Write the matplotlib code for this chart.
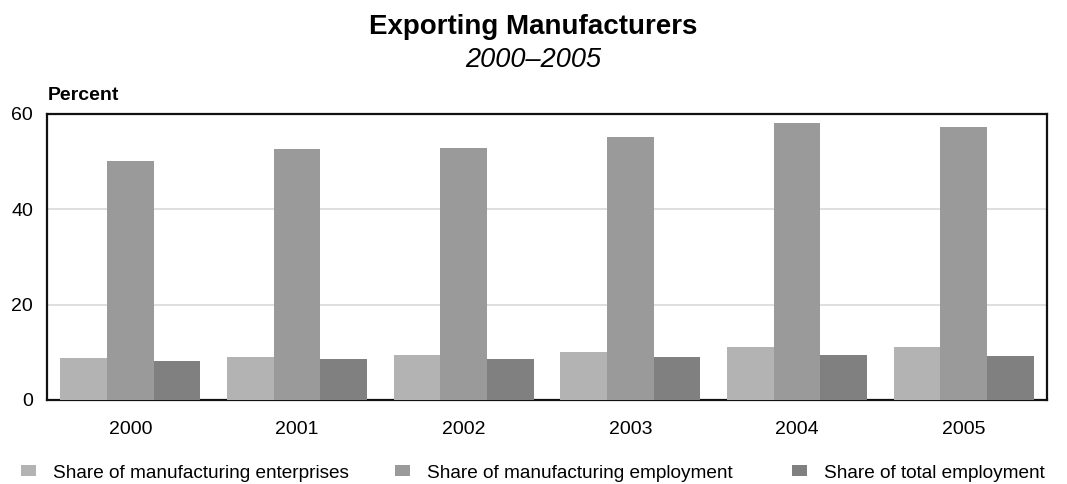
import matplotlib
matplotlib.use("Agg")
import matplotlib.pyplot as plt
import numpy as np

years = ["2000", "2001", "2002", "2003", "2004", "2005"]
share_enterprises = [8.8, 9.0, 9.4, 10.1, 11.1, 11.1]
share_mfg_employment = [50.1, 52.7, 52.9, 55.2, 58.1, 57.3]
share_total_employment = [8.2, 8.6, 8.6, 9.0, 9.4, 9.2]
series_labels = ["Share of manufacturing enterprises",
                 "Share of manufacturing employment",
                 "Share of total employment"]
colors = ["#b3b3b3", "#9a9a9a", "#808080"]

plt.rcParams['font.family'] = ['Liberation Sans', 'DejaVu Sans']

W, H = 1067, 484
fig = plt.figure(figsize=(W / 100, H / 100), dpi=100)
ax = fig.add_axes([47 / W, (H - 400) / H, 1000 / W, 286 / H])

x = np.arange(len(years))
bw = 0.28
handles = []
for i, (vals, lab, c) in enumerate(zip([share_enterprises, share_mfg_employment, share_total_employment],
                                       series_labels, colors)):
    b = ax.bar(x + (i - 1) * bw, vals, width=bw, color=c, label=lab, zorder=3, linewidth=0)
    handles.append(b)

ax.set_xlim(-0.5, len(years) - 0.5)
ax.set_ylim(0, 60)
ax.set_yticks([0, 20, 40, 60])
ax.set_xticks(x)
ax.set_xticklabels(years)
ax.yaxis.grid(True, color="#d9d9d9", linewidth=1.2, zorder=0)
ax.set_axisbelow(True)
for s in ax.spines.values():
    s.set_linewidth(1.6)
    s.set_color("#111111")
ax.tick_params(axis='both', length=0, labelsize=14, colors="#000000")
ax.tick_params(axis='x', pad=15)
ax.tick_params(axis='y', pad=10)

fig.text(48 / W, 1 - 100 / H, "Percent", fontsize=14, fontweight='bold', ha='left', va='baseline')
fig.text(0.5, 1 - 34 / H, "Exporting Manufacturers", fontsize=20, fontweight='bold', ha='center', va='baseline')
fig.text(0.5, 1 - 67 / H, "2000\u20132005", fontsize=19.5, style='italic', ha='center', va='baseline')

legend_x = [21, 395, 792]
fs = 13.7
fpx = fs * 100 / 72
for h, lab, lx in zip(handles, series_labels, legend_x):
    leg = fig.legend([h], [lab], loc='center left', bbox_to_anchor=(lx / W, 1 - 473 / H),
                     frameon=False, fontsize=fs, handlelength=15 / fpx, handleheight=9 / fpx,
                     handletextpad=17 / fpx, borderpad=0, borderaxespad=0)

fig.savefig("out.png", dpi=100)
